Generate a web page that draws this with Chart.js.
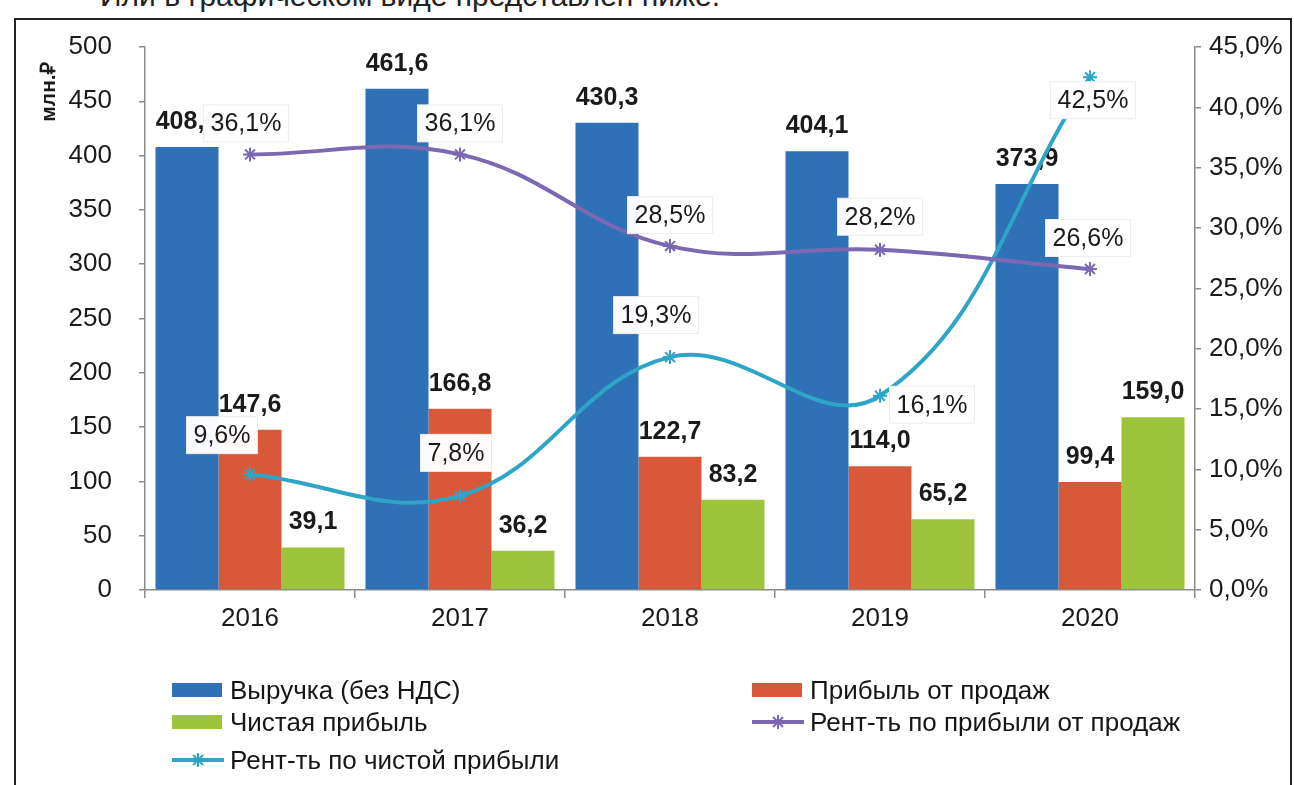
<!DOCTYPE html>
<html><head><meta charset="utf-8">
<script src="https://cdn.jsdelivr.net/npm/chart.js@4.4.1/dist/chart.umd.min.js"></script>
<style>
html,body{margin:0;padding:0;background:#fff;width:1294px;height:785px;overflow:hidden;font-family:"Liberation Sans",Arial,sans-serif;}
#frame{position:absolute;left:14px;top:18px;width:1274px;height:820px;border:2px solid #222;}
#cap{position:absolute;left:100px;top:-19px;font-size:30px;line-height:30px;color:#222;white-space:nowrap;}
canvas{position:absolute;left:0;top:0;}
#legend{position:absolute;left:0;top:0;}
.li{position:absolute;height:30px;display:flex;align-items:center;font-size:26px;color:#161616;white-space:nowrap;}
.sw{width:50px;height:14px;margin-right:8px;}
.li svg{margin-right:6px;}
</style></head><body>
<div id="cap">Или в графическом виде представлен ниже.</div>
<div id="frame"></div>
<canvas id="c" width="1294" height="785"></canvas>
<div id="legend"></div>
<script>
// ---- data ----
const categories = ['2016', '2017', '2018', '2019', '2020'];
const revenue     = [408.0, 461.6, 430.3, 404.1, 373.9];
const salesProfit = [147.6, 166.8, 122.7, 114.0, 99.4];
const netProfit   = [39.1, 36.2, 83.2, 65.2, 159.0];
const salesMargin = [36.1, 36.1, 28.5, 28.2, 26.6];
const netMargin   = [9.6, 7.8, 19.3, 16.1, 42.5];
const seriesNames = ['Выручка (без НДС)', 'Прибыль от продаж', 'Чистая прибыль',
                     'Рент-ть по прибыли от продаж', 'Рент-ть по чистой прибыли'];
const leftAxisTitle = 'млн.₽';
const leftTickRange = [0, 500, 50];
const rightTickRange = [0, 45, 5];

// ---- styling / label placement (not data) ----
const colors = ['#2f71b6', '#d8593a', '#9dc43c', '#7b67b2', '#2ea5c6'];
const salesLabelOffsets = [[-4,-31],[0,-31],[0,-31],[0,-33],[-2,-31]];
const netLabelOffsets   = [[-28,-39],[-4,-43],[-14,-42],[52,9],[3,23]];

const fmt1 = v => v.toFixed(1).replace('.', ',');

const labelPlugin = {
  id: 'labels',
  afterDatasetDraw(chart, args) {
    if (args.index !== 0) return;
    const ctx = chart.ctx;
    ctx.save();
    ctx.font = 'bold 25px "Liberation Sans", Arial, sans-serif';
    ctx.fillStyle = '#1a1a1a';
    ctx.textAlign = 'center';
    ctx.textBaseline = 'middle';
    [0,1,2].forEach(di => {
      const meta = chart.getDatasetMeta(di);
      const vals = chart.data.datasets[di].data;
      meta.data.forEach((el, i) => {
        ctx.fillText(fmt1(vals[i]), el.x, el.y - 25);
      });
    });
    ctx.restore();
  },
  afterDatasetsDraw(chart) {
    const ctx = chart.ctx;
    ctx.save();
    ctx.font = '25px "Liberation Sans", Arial, sans-serif';
    ctx.textAlign = 'center';
    ctx.textBaseline = 'middle';
    [[3, salesLabelOffsets], [4, netLabelOffsets]].forEach(([di, offs]) => {
      const meta = chart.getDatasetMeta(di);
      const vals = chart.data.datasets[di].data;
      meta.data.forEach((el, i) => {
        const t = fmt1(vals[i]) + '%';
        const x = el.x + offs[i][0], y = el.y + offs[i][1];
        const w = ctx.measureText(t).width + 14, h = 37;
        ctx.fillStyle = 'rgba(255,255,255,0.97)';
        ctx.fillRect(x - w/2, y - h/2, w, h);
        ctx.strokeStyle = '#ececec';
        ctx.lineWidth = 1;
        ctx.strokeRect(x - w/2, y - h/2, w, h);
        ctx.fillStyle = '#1a1a1a';
        ctx.fillText(t, x, y + 1);
      });
    });
    // left axis title
    ctx.font = 'bold 21px "Liberation Sans", Arial, sans-serif';
    ctx.translate(49, 92);
    ctx.rotate(-Math.PI/2);
    ctx.fillStyle = '#1a1a1a';
    ctx.fillText(leftAxisTitle, 0, 0);
    ctx.restore();
  }
};

const axisColor = '#8a8a8a';
const tickFont = {family: '"Liberation Sans", Arial, sans-serif', size: 26};

const barDs = (i, data) => ({
  type: 'bar', label: seriesNames[i], data, backgroundColor: colors[i],
  borderWidth: 0, categoryPercentage: 0.9, barPercentage: 1.0, yAxisID: 'y', order: 1
});
const lineDs = (i, data) => ({
  type: 'line', label: seriesNames[i], data, borderColor: colors[i], backgroundColor: colors[i],
  borderWidth: 4, tension: 0.4, fill: false, yAxisID: 'y1', order: 0,
  pointStyle: 'star', pointRadius: 7, pointBorderWidth: 2, pointBorderColor: colors[i]
});

new Chart(document.getElementById('c'), {
  data: {
    labels: categories,
    datasets: [
      barDs(0, revenue), barDs(1, salesProfit), barDs(2, netProfit),
      lineDs(3, salesMargin), lineDs(4, netMargin)
    ]
  },
  options: {
    responsive: false,
    animation: false,
    layout: {padding: {top: 47, left: 0, right: 0, bottom: 0}},
    plugins: {legend: {display: false}, tooltip: {enabled: false}},
    scales: {
      x: {
        offset: true,
        grid: {display: true, offset: true, drawOnChartArea: false, drawTicks: true, tickLength: 8, color: axisColor, lineWidth: 1.5},
        border: {display: true, color: axisColor, width: 1.5},
        ticks: {font: tickFont, color: '#1a1a1a', padding: 5},
        afterFit(s) { s.height = 195; }
      },
      y: {
        position: 'left', min: leftTickRange[0], max: leftTickRange[1],
        ticks: {stepSize: leftTickRange[2], font: tickFont, color: '#1a1a1a', padding: 27},
        grid: {drawOnChartArea: false, tickLength: 6, color: axisColor, lineWidth: 1.5},
        border: {color: axisColor, width: 1.5},
        afterFit(s) { s.width = 145; }
      },
      y1: {
        position: 'right', min: rightTickRange[0], max: rightTickRange[1],
        ticks: {stepSize: rightTickRange[2], font: tickFont, color: '#1a1a1a', padding: 8,
                callback: v => fmt1(v) + '%'},
        grid: {drawOnChartArea: false, tickLength: 6, color: axisColor, lineWidth: 1.5},
        border: {color: axisColor, width: 1.5},
        afterFit(s) { s.width = 99; }
      }
    }
  },
  plugins: [labelPlugin]
});

// ---- legend (HTML, built from series names/colors) ----
const legendSlots = [[172, 690], [752, 690], [172, 722], [752, 722], [172, 760]];
const lg = document.getElementById('legend');
seriesNames.forEach((name, i) => {
  const d = document.createElement('div');
  d.className = 'li';
  d.style.left = legendSlots[i][0] + 'px';
  d.style.top = (legendSlots[i][1] - 15) + 'px';
  let sw;
  if (i < 3) {
    sw = '<div class="sw" style="background:' + colors[i] + '"></div>';
  } else {
    const c = colors[i];
    sw = '<svg width="52" height="20" viewBox="0 0 52 20"><line x1="0" y1="10" x2="52" y2="10" stroke="' + c + '" stroke-width="4"/>' +
         '<g stroke="' + c + '" stroke-width="2"><line x1="26" y1="3" x2="26" y2="17"/><line x1="21" y1="5" x2="31" y2="15"/><line x1="31" y1="5" x2="21" y2="15"/></g></svg>';
  }
  d.innerHTML = sw + '<span>' + name + '</span>';
  lg.appendChild(d);
});
</script>
</body></html>
